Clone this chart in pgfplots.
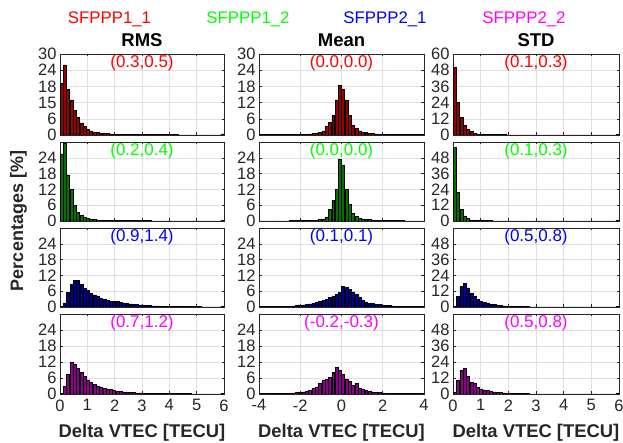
\documentclass[border=0pt]{standalone}
\usepackage{pgfplots}
\pgfplotsset{compat=1.18}
\usepackage{pgfplotstable}
\usepackage{fontspec}
\setmainfont{Liberation Sans}
\definecolor{txtc}{rgb}{0.15,0.15,0.15}
\definecolor{gridc}{rgb}{0.88,0.88,0.88}
\definecolor{fr}{rgb}{0.6,0,0}
\definecolor{fg}{rgb}{0,0.45,0}
\definecolor{fb}{rgb}{0,0,0.55}
\definecolor{fm}{rgb}{0.55,0,0.55}
\definecolor{tR}{rgb}{1,0,0}
\definecolor{tG}{rgb}{0,1,0}
\definecolor{tB}{rgb}{0,0,1}
\definecolor{tM}{rgb}{1,0,1}

% RMS: bins of 0.12 over 0..6
\pgfplotstableread{
x r1 r2 r3 r4
0.06 19 25.5 0.1 0.2
0.18 26 29.5 1.6 2.8
0.30 17 17.5 5.5 7.5
0.42 13 12 8.5 11.8
0.54 9 6 10 11.3
0.66 6.5 3.3 10 9.6
0.78 4.5 2.0 8.5 8.1
0.90 3.2 1.3 7.2 6.7
1.02 2.0 0.9 6.3 5.3
1.14 1.5 0.6 5.3 4.3
1.26 1.2 0.5 4.6 3.6
1.38 0.9 0.4 4.0 3.0
1.50 0.7 0.35 3.4 2.7
1.62 0.5 0.3 3.0 2.1
1.74 0.5 0.3 2.6 1.7
1.86 0.4 0.25 2.2 1.6
1.98 0.35 0.2 2.2 1.4
2.10 0.3 0.2 2.0 1.1
2.22 0.3 0.2 1.8 1.0
2.34 0.25 0.15 1.6 0.8
2.46 0.25 0.15 1.4 0.65
2.58 0.2 0.15 1.2 0.55
2.70 0.2 0.12 1.0 0.5
2.82 0.2 0.12 0.9 0.4
2.94 0.2 0.1 0.8 0.4
3.06 0.15 0.1 0.7 0.35
3.18 0.15 0.1 0.6 0.3
3.30 0.15 0.1 0.5 0.3
3.42 0.15 0.08 0.45 0.25
3.54 0.12 0.08 0.4 0.25
3.66 0.12 0.08 0.35 0.2
3.78 0.12 0.08 0.3 0.2
3.90 0.1 0.06 0.3 0.18
4.02 0.1 0.06 0.25 0.15
4.14 0.1 0.06 0.22 0.15
4.26 0.1 0.05 0.2 0.12
4.38 0.08 0.05 0.18 0.12
4.50 0.08 0.05 0.16 0.1
4.62 0.08 0.05 0.15 0.1
4.74 0.08 0.04 0.14 0.1
4.86 0.07 0.04 0.12 0.08
4.98 0.07 0.04 0.11 0.08
5.10 0.07 0.04 0.1 0.07
5.22 0.06 0.04 0.09 0.07
5.34 0.06 0.03 0.08 0.06
5.46 0.06 0.03 0.08 0.06
5.58 0.05 0.03 0.07 0.05
5.70 0.05 0.03 0.07 0.05
5.82 0.05 0.03 0.06 0.05
5.94 0.4 0.2 0.3 0.2
}\tabRMS

% Mean: bins of 0.16 over -4..4
\pgfplotstableread{
x r1 r2 r3 r4
-3.92 0.1 0.05 0.1 0.1
-3.76 0.1 0.05 0.1 0.1
-3.60 0.1 0.05 0.1 0.1
-3.44 0.1 0.05 0.12 0.12
-3.28 0.1 0.05 0.14 0.14
-3.12 0.12 0.05 0.16 0.15
-2.96 0.12 0.06 0.2 0.18
-2.80 0.15 0.06 0.25 0.2
-2.64 0.15 0.08 0.3 0.25
-2.48 0.18 0.1 0.35 0.3
-2.32 0.2 0.12 0.45 0.4
-2.16 0.22 0.15 0.55 0.5
-2.00 0.25 0.2 0.7 0.6
-1.84 0.3 0.25 0.85 0.8
-1.68 0.35 0.3 1.0 1.1
-1.52 0.45 0.3 1.2 1.4
-1.36 0.6 0.35 1.4 2.0
-1.20 0.8 0.45 1.7 2.7
-1.04 1.0 0.6 2.1 3.9
-0.88 1.5 0.8 2.6 5.1
-0.72 3.1 1.4 3.0 5.4
-0.56 4.6 4.3 3.7 6.1
-0.40 7.4 7.7 4.2 8.0
-0.24 13 12 4.8 10.1
-0.08 18.5 23.5 5.6 8.9
0.08 17 21.3 7.9 7.3
0.24 13 12 7.4 5.7
0.40 7.4 6.2 6.6 4.8
0.56 3.7 3.0 5.7 3.2
0.72 2.5 1.7 5.0 3.9
0.88 1.5 1.0 3.8 2.3
1.04 1.1 0.8 2.6 1.6
1.20 0.9 0.6 1.9 1.3
1.36 0.6 0.5 1.3 1.0
1.52 0.5 0.4 1.5 0.8
1.68 0.4 0.35 1.0 0.6
1.84 0.35 0.3 0.9 0.5
2.00 0.3 0.25 0.75 0.4
2.16 0.25 0.2 0.6 0.35
2.32 0.22 0.18 0.5 0.3
2.48 0.2 0.15 0.4 0.25
2.64 0.18 0.12 0.35 0.2
2.80 0.15 0.1 0.3 0.18
2.96 0.15 0.1 0.25 0.15
3.12 0.12 0.08 0.2 0.12
3.28 0.12 0.08 0.18 0.12
3.44 0.1 0.06 0.15 0.1
3.60 0.1 0.06 0.12 0.1
3.76 0.1 0.05 0.1 0.1
3.92 0.1 0.05 0.1 0.1
}\tabMean

% STD: bins of 0.12 over 0..6
\pgfplotstableread{
x r1 r2 r3 r4
0.06 50 56 0.5 1.3
0.18 24 21.5 8 10.4
0.30 13 9 15.5 17.8
0.42 7.4 3.8 18 19
0.54 4.4 1.8 14.5 13
0.66 2.5 0.9 10.5 9.1
0.78 1.3 0.5 8 7.8
0.90 0.8 0.4 6 4.7
1.02 0.5 0.3 4.5 3.9
1.14 0.4 0.25 3.5 3.1
1.26 0.35 0.2 2.8 2.6
1.38 0.3 0.2 2.2 2.1
1.50 0.25 0.18 1.8 1.6
1.62 0.2 0.15 1.4 1.3
1.74 0.2 0.15 1.1 1.0
1.86 0.18 0.12 0.9 0.8
1.98 0.15 0.12 0.7 0.6
2.10 0.15 0.1 0.55 0.5
2.22 0.12 0.1 0.45 0.4
2.34 0.12 0.1 0.35 0.3
2.46 0.1 0.08 0.3 0.25
2.58 0.1 0.08 0.25 0.2
2.70 0.1 0.08 0.2 0.2
2.82 0.1 0.07 0.18 0.18
2.94 0.09 0.07 0.15 0.15
3.06 0.09 0.07 0.14 0.14
3.18 0.08 0.06 0.12 0.12
3.30 0.08 0.06 0.11 0.11
3.42 0.08 0.06 0.1 0.1
3.54 0.07 0.05 0.1 0.1
3.66 0.07 0.05 0.09 0.09
3.78 0.07 0.05 0.09 0.09
3.90 0.06 0.05 0.08 0.08
4.02 0.06 0.05 0.08 0.08
4.14 0.06 0.04 0.07 0.07
4.26 0.06 0.04 0.07 0.07
4.38 0.05 0.04 0.06 0.06
4.50 0.05 0.04 0.06 0.06
4.62 0.05 0.04 0.06 0.06
4.74 0.05 0.04 0.05 0.05
4.86 0.05 0.03 0.05 0.05
4.98 0.05 0.03 0.05 0.05
5.10 0.04 0.03 0.05 0.05
5.22 0.04 0.03 0.04 0.04
5.34 0.04 0.03 0.04 0.04
5.46 0.04 0.03 0.04 0.04
5.58 0.04 0.03 0.04 0.04
5.70 0.04 0.03 0.04 0.04
5.82 0.04 0.03 0.04 0.04
5.94 0.3 0.2 0.2 0.2
}\tabSTD

\tikzset{
  ann/.style={font=\fontsize{17}{17}\selectfont, anchor=center, yshift=-9.5pt},
  hb/.style={draw=black, line width=0.5pt},
}
\pgfplotsset{
  base/.style={
    scale only axis, anchor=south west,
    ybar, bar shift=0pt, ymin=0,
    axis line style={draw=txtc, line width=0.6pt},
    grid=major, major grid style={draw=gridc, line width=0.5pt},
    tick align=inside, major tick length=2.5pt,
    tick style={draw=txtc, line width=0.5pt},
    ticklabel style={font=\fontsize{16.5}{16.5}\selectfont, text=txtc},
    /pgf/number format/assume math mode=true,
    xticklabel style={yshift=-2pt},
  },
  cA/.style={base, xmin=0, xmax=6, xtick={0,1,2,3,4,5,6}, xticklabels={,,,,,,}, width=164pt, bar width=0.108},
  cB/.style={base, xmin=-4, xmax=4, xtick={-4,-2,0,2,4}, xticklabels={,,,,}, width=165pt, bar width=0.144},
  cC/.style={base, xmin=0, xmax=6, xtick={0,1,2,3,4,5,6}, xticklabels={,,,,,,}, width=166pt, bar width=0.108},
  yS/.style={ymax=30, ytick={0,6,12,18,24}, yticklabels={0,6,12,18,24}},
  yL/.style={ymax=60, ytick={0,12,24,36,48}, yticklabels={0,12,24,36,48}},
  botA/.style={xticklabels={0,1,2,3,4,5,6}},
  botB/.style={xticklabels={-4,-2,0,2,4}},
}

\begin{document}
\begin{tikzpicture}
\useasboundingbox (0,0) rectangle (623pt,443pt);

% ---------- Row 1 ----------
\begin{axis}[cA, at={(60pt,308pt)}, height=81pt, ymax=30, ytick={0,6,12,18,24,30}, yticklabels={0,6,15,18,24,30}]
\addplot[hb, fill=fr] table[x=x,y=r1]{\tabRMS};
\node[ann, text=tR] at (rel axis cs:0.5,1) {(0.3,0.5)};
\end{axis}
\begin{axis}[cB, at={(259pt,308pt)}, height=81pt, ymax=30, ytick={0,6,12,18,24,30}, yticklabels={0,6,12,18,24,30}]
\addplot[hb, fill=fr] table[x=x,y=r1]{\tabMean};
\node[ann, text=tR] at (rel axis cs:0.5,1) {(0.0,0.0)};
\end{axis}
\begin{axis}[cC, at={(453pt,308pt)}, height=81pt, ymax=60, ytick={0,12,24,36,48,60}, yticklabels={0,12,24,36,48,60}]
\addplot[hb, fill=fr] table[x=x,y=r1]{\tabSTD};
\node[ann, text=tR] at (rel axis cs:0.5,1) {(0.1,0.3)};
\end{axis}

% ---------- Row 2 ----------
\begin{axis}[cA, yS, at={(60pt,222pt)}, height=79pt]
\addplot[hb, fill=fg] table[x=x,y=r2]{\tabRMS};
\node[ann, text=tG] at (rel axis cs:0.5,1) {(0.2,0.4)};
\end{axis}
\begin{axis}[cB, yS, at={(259pt,222pt)}, height=79pt]
\addplot[hb, fill=fg] table[x=x,y=r2]{\tabMean};
\node[ann, text=tG] at (rel axis cs:0.5,1) {(0.0,0.0)};
\end{axis}
\begin{axis}[cC, yL, at={(453pt,222pt)}, height=79pt]
\addplot[hb, fill=fg] table[x=x,y=r2]{\tabSTD};
\node[ann, text=tG] at (rel axis cs:0.5,1) {(0.1,0.3)};
\end{axis}

% ---------- Row 3 ----------
\begin{axis}[cA, yS, at={(60pt,136pt)}, height=79pt]
\addplot[hb, fill=fb] table[x=x,y=r3]{\tabRMS};
\node[ann, text=tB] at (rel axis cs:0.5,1) {(0.9,1.4)};
\end{axis}
\begin{axis}[cB, yS, at={(259pt,136pt)}, height=79pt]
\addplot[hb, fill=fb] table[x=x,y=r3]{\tabMean};
\node[ann, text=tB] at (rel axis cs:0.5,1) {(0.1,0.1)};
\end{axis}
\begin{axis}[cC, yL, at={(453pt,136pt)}, height=79pt]
\addplot[hb, fill=fb] table[x=x,y=r3]{\tabSTD};
\node[ann, text=tB] at (rel axis cs:0.5,1) {(0.5,0.8)};
\end{axis}

% ---------- Row 4 ----------
\begin{axis}[cA, yS, botA, at={(60pt,49pt)}, height=80pt]
\addplot[hb, fill=fm] table[x=x,y=r4]{\tabRMS};
\node[ann, text=tM] at (rel axis cs:0.5,1) {(0.7,1.2)};
\end{axis}
\begin{axis}[cB, yS, botB, at={(259pt,49pt)}, height=80pt]
\addplot[hb, fill=fm] table[x=x,y=r4]{\tabMean};
\node[ann, text=tM] at (rel axis cs:0.5,1) {(-0.2,-0.3)};
\end{axis}
\begin{axis}[cC, yL, botA, at={(453pt,49pt)}, height=80pt]
\addplot[hb, fill=fm] table[x=x,y=r4]{\tabSTD};
\node[ann, text=tM] at (rel axis cs:0.5,1) {(0.5,0.8)};
\end{axis}

% ---------- Texts ----------
\begin{scope}[every node/.style={inner sep=0pt, anchor=base}]
\node[text=tR, font=\fontsize{16.8}{17}\selectfont] at (109.5pt,419.7pt) {SFPPP1\_1};
\node[text=tG, font=\fontsize{16.8}{17}\selectfont] at (248pt,419.7pt) {SFPPP1\_2};
\node[text=tB, font=\fontsize{16.8}{17}\selectfont] at (385pt,419.7pt) {SFPPP2\_1};
\node[text=tM, font=\fontsize{16.8}{17}\selectfont] at (524pt,419.7pt) {SFPPP2\_2};
\node[font=\fontsize{18.5}{19}\selectfont\bfseries] at (142pt,396.3pt) {RMS};
\node[font=\fontsize{18.5}{19}\selectfont\bfseries] at (341.5pt,396.3pt) {Mean};
\node[font=\fontsize{18.5}{19}\selectfont\bfseries] at (536pt,396.3pt) {STD};
\node[text=txtc, font=\fontsize{18.4}{19}\selectfont\bfseries] at (142pt,5.3pt) {Delta VTEC [TECU]};
\node[text=txtc, font=\fontsize{18.4}{19}\selectfont\bfseries] at (341.5pt,5.3pt) {Delta VTEC [TECU]};
\node[text=txtc, font=\fontsize{18.4}{19}\selectfont\bfseries] at (536pt,5.3pt) {Delta VTEC [TECU]};
\end{scope}
\node[text=txtc, font=\fontsize{18}{19}\selectfont\bfseries, rotate=90, anchor=center, inner sep=0pt] at (18.5pt,222pt) {Percentages [\%]};
\end{tikzpicture}
\end{document}
